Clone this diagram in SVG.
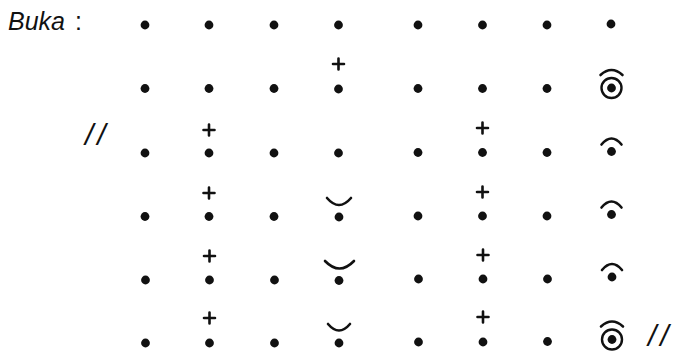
<svg xmlns="http://www.w3.org/2000/svg" xmlns:xlink="http://www.w3.org/1999/xlink" width="677" height="352" viewBox="0 0 677 352">
<style>
  .lbl { font-family: "Liberation Sans", Arial, sans-serif; font-size: 25px; fill: #111; }
  .it { font-style: italic; }
  .sl { font-family: "Liberation Sans", Arial, sans-serif; font-size: 30px; font-style: italic; fill: #111; }
  .dot { fill: #111; }
  .ln { fill: none; stroke: #111; stroke-width: 2.6; stroke-linecap: round; }
  .ring { fill: none; stroke: #111; stroke-width: 2.4; }
</style>
<defs>
  <circle id="d" r="4.4" class="dot"/>
  <path id="p" d="M-5.5,0 H5.5 M0,-5.5 V5.5" class="ln"/>
  <g id="cap"><path d="M-10,-7 Q0,-19 10,-7" class="ln"/><circle r="4.4" class="dot"/></g>
  <g id="ring"><path d="M-11,-13 Q0,-23 11,-13" class="ln"/><circle r="10" class="ring"/><circle r="4.4" class="dot"/></g>
</defs>
<rect width="677" height="352" fill="#fff"/>
<g id="title">
  <text class="lbl it" x="8" y="30">Buka</text>
  <text class="lbl" x="75" y="30">:</text>
</g>
<g id="marks">
  <text class="sl" x="85" y="145" letter-spacing="4">//</text>
  <text class="sl" x="648" y="346" letter-spacing="4">//</text>
</g>
<g id="row1">
  <use xlink:href="#d" x="145" y="25"/><use xlink:href="#d" x="209" y="25"/><use xlink:href="#d" x="274" y="25"/><use xlink:href="#d" x="338.5" y="25"/>
  <use xlink:href="#d" x="418" y="25"/><use xlink:href="#d" x="482.5" y="25"/><use xlink:href="#d" x="547" y="25"/><use xlink:href="#d" x="611" y="24"/>
</g>
<g id="row2">
  <use xlink:href="#d" x="145" y="88.5"/><use xlink:href="#d" x="209" y="88.5"/><use xlink:href="#d" x="274" y="88.5"/>
  <use xlink:href="#p" x="338.5" y="64"/><use xlink:href="#d" x="338.5" y="89"/>
  <use xlink:href="#d" x="418" y="88.5"/><use xlink:href="#d" x="482.5" y="88.5"/><use xlink:href="#d" x="547" y="88.5"/>
  <use xlink:href="#ring" x="611.5" y="88"/>
</g>
<g id="row3">
  <use xlink:href="#d" x="145" y="153"/>
  <use xlink:href="#p" x="209" y="130"/><use xlink:href="#d" x="209" y="153"/>
  <use xlink:href="#d" x="274" y="153"/><use xlink:href="#d" x="338.5" y="153"/>
  <use xlink:href="#d" x="418" y="152.5"/>
  <use xlink:href="#p" x="482.5" y="128"/><use xlink:href="#d" x="482.5" y="152.5"/>
  <use xlink:href="#d" x="547" y="152.5"/>
  <use xlink:href="#cap" x="611.5" y="151.5"/>
</g>
<g id="row4">
  <use xlink:href="#d" x="145" y="216.5"/>
  <use xlink:href="#p" x="209" y="193"/><use xlink:href="#d" x="209" y="216.5"/>
  <use xlink:href="#d" x="274" y="216.5"/>
  <path d="M327,198 Q339,212 351,198" class="ln"/><use xlink:href="#d" x="339" y="217"/>
  <use xlink:href="#d" x="418" y="216"/>
  <use xlink:href="#p" x="482.5" y="192"/><use xlink:href="#d" x="482.5" y="216"/>
  <use xlink:href="#d" x="547" y="216"/>
  <use xlink:href="#cap" x="611.5" y="214.5"/>
</g>
<g id="row5">
  <use xlink:href="#d" x="145.5" y="280"/>
  <use xlink:href="#p" x="209.5" y="256"/><use xlink:href="#d" x="209.5" y="280"/>
  <use xlink:href="#d" x="274.5" y="280"/>
  <path d="M325,261 Q339.5,276 354,261" class="ln"/><use xlink:href="#d" x="339" y="280.5"/>
  <use xlink:href="#d" x="418.5" y="279"/>
  <use xlink:href="#p" x="483" y="255"/><use xlink:href="#d" x="483" y="279"/>
  <use xlink:href="#d" x="547.5" y="279"/>
  <use xlink:href="#cap" x="612" y="277"/>
</g>
<g id="row6">
  <use xlink:href="#d" x="145.5" y="343"/>
  <use xlink:href="#p" x="209.5" y="318"/><use xlink:href="#d" x="209.5" y="343"/>
  <use xlink:href="#d" x="274.5" y="343"/>
  <path d="M328,324 Q339,337 350,324" class="ln"/><use xlink:href="#d" x="339" y="343"/>
  <use xlink:href="#d" x="418.5" y="342"/>
  <use xlink:href="#p" x="483" y="317"/><use xlink:href="#d" x="483" y="342"/>
  <use xlink:href="#d" x="547.5" y="341.5"/>
  <use xlink:href="#ring" x="612" y="339.5"/>
</g>
</svg>
